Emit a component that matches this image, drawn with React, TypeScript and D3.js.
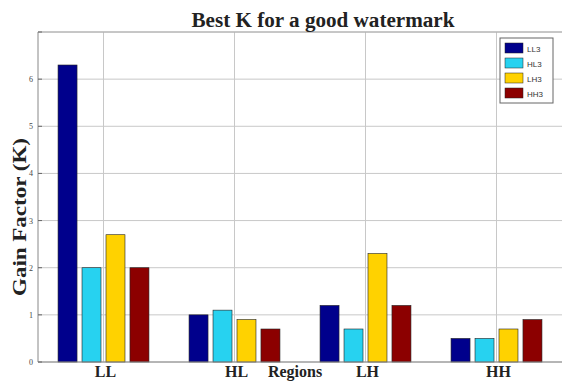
import React from "react";
import * as d3 from "d3";

const categories = ["LL", "HL", "LH", "HH"];
const seriesNames = ["LL3", "HL3", "LH3", "HH3"];
const seriesColors = ["#00008c", "#27d2f0", "#ffd200", "#8c0000"];
const valuesLL3 = [6.3, 1.0, 1.2, 0.5];
const valuesHL3 = [2.0, 1.1, 0.7, 0.5];
const valuesLH3 = [2.7, 0.9, 2.3, 0.7];
const valuesHH3 = [2.0, 0.7, 1.2, 0.9];
const yTicks = [0, 1, 2, 3, 4, 5, 6, 7];
const yTickLabels = ["0", "1", "2", "3", "4", "5", "6", ""];

const series = [valuesLL3, valuesHL3, valuesLH3, valuesHH3];

export default function App() {
  const W = 563, H = 381;
  const left = 38, right = 562, top = 32, bottom = 362;
  const x = d3.scaleLinear().domain([0.5, 4.5]).range([left, right]);
  const y = d3.scaleLinear().domain([0, 7]).range([bottom, top]);
  const step = 0.183;
  const bw = 0.145;

  return (
    <svg width={W} height={H} style={{ position: "absolute", left: 0, top: 0, background: "#fff" }}>
      <rect x={0} y={0} width={W} height={H} fill="#fff" />
      {yTicks.map((t) => (
        <line key={"gy" + t} x1={left} x2={right} y1={y(t)} y2={y(t)} stroke="#c8c8c8" strokeWidth={1} />
      ))}
      {categories.map((c, i) => (
        <line key={"gx" + c} x1={x(i + 1)} x2={x(i + 1)} y1={top} y2={bottom} stroke="#c8c8c8" strokeWidth={1} />
      ))}
      {series.map((vals, s) =>
        vals.map((v, i) => {
          const cx = i + 1 + (s - 1.5) * step;
          const x0 = x(cx - bw / 2);
          const x1 = x(cx + bw / 2);
          return (
            <rect
              key={s + "-" + i}
              x={x0}
              y={y(v)}
              width={x1 - x0}
              height={y(0) - y(v)}
              fill={seriesColors[s]}
              stroke="#222"
              strokeWidth={0.6}
            />
          );
        })
      )}
      <line x1={left} x2={left} y1={top} y2={bottom} stroke="#888" strokeWidth={1} />
      <line x1={left} x2={right} y1={bottom} y2={bottom} stroke="#888" strokeWidth={1} />
      <line x1={left} x2={right} y1={top} y2={top} stroke="#aaa" strokeWidth={1} />
      {yTicks.map((t, i) => (
        <g key={"yt" + t}>
          <line x1={left} x2={left + 4} y1={y(t)} y2={y(t)} stroke="#666" />
          <text x={left - 5} y={y(t) + 3} fontSize={8} textAnchor="end" fontFamily="Liberation Serif" fill="#444">
            {yTickLabels[i]}
          </text>
        </g>
      ))}
      {categories.map((c, i) => (
        <text key={"xl" + c} x={x(i + 1) + 2} y={377} fontSize={16} fontWeight="bold" textAnchor="middle" fontFamily="Liberation Serif" fill="#222">
          {c}
        </text>
      ))}
      <text x={295} y={377} fontSize={16} fontWeight="bold" textAnchor="middle" fontFamily="Liberation Serif" fill="#222">
        Regions
      </text>
      <text x={323} y={27} fontSize={20} fontWeight="bold" textAnchor="middle" fontFamily="Liberation Serif" fill="#222" textLength={263} lengthAdjust="spacingAndGlyphs">
        Best K for a good watermark
      </text>
      <text transform={`translate(26,${217}) rotate(-90)`} fontSize={19} fontWeight="bold" textAnchor="middle" fontFamily="Liberation Serif" fill="#222" textLength={158} lengthAdjust="spacingAndGlyphs">
        Gain Factor (K)
      </text>
      <rect x={500} y={38} width={53} height={65} fill="#fff" stroke="#666" strokeWidth={1} />
      {seriesNames.map((n, i) => (
        <g key={"lg" + n}>
          <rect x={505} y={43 + i * 15} width={18} height={10} fill={seriesColors[i]} stroke="#222" strokeWidth={0.5} />
          <text x={527} y={52 + i * 15} fontSize={8} fontFamily="Liberation Sans" fill="#333">
            {n}
          </text>
        </g>
      ))}
    </svg>
  );
}
